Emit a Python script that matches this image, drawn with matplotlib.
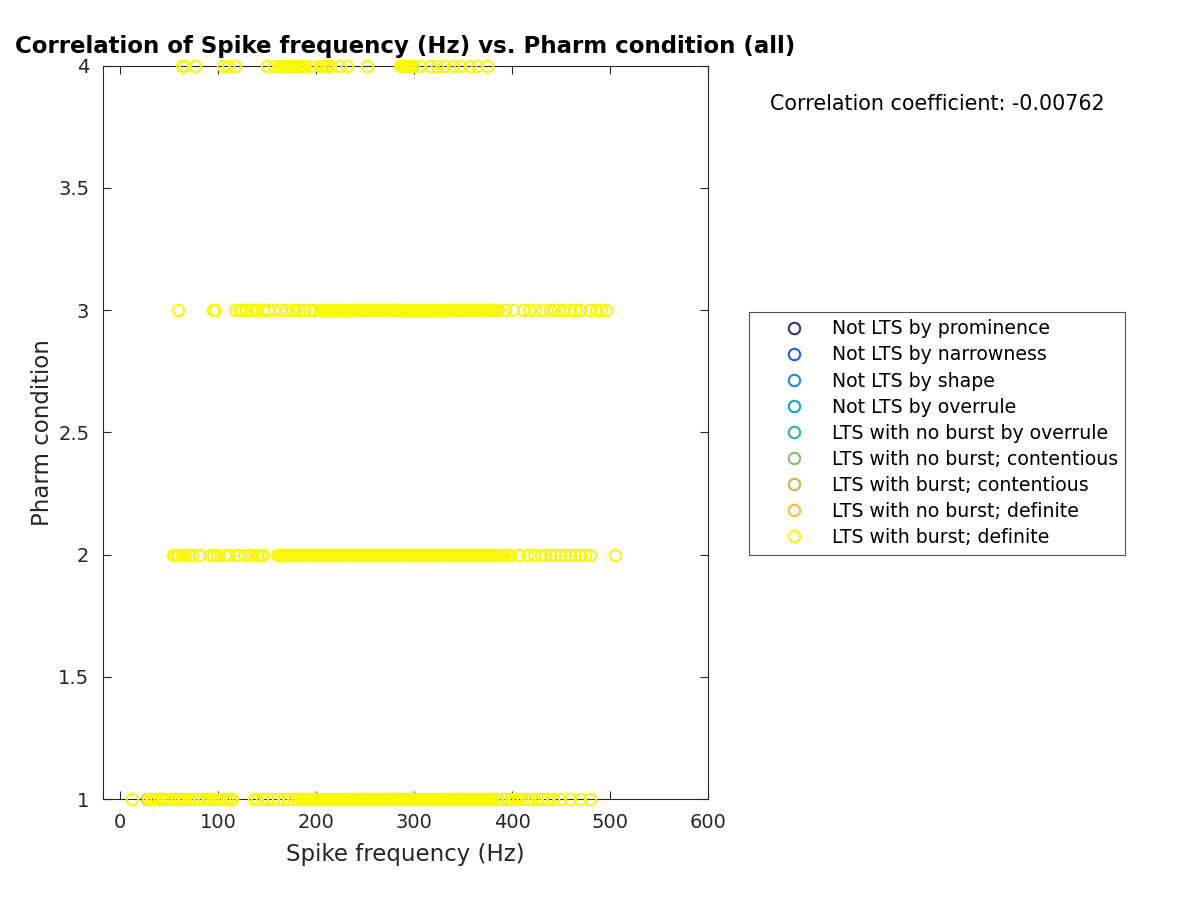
import numpy as np
import matplotlib
matplotlib.use("Agg")
import matplotlib.pyplot as plt

# spike frequency (Hz) for each pharm condition
freq_c4 = [63, 66, 76, 105, 110, 117, 150, 157, 163, 165, 167, 169, 171, 173, 175, 177, 179,
           181, 183, 185, 187, 189, 194, 204, 207, 210, 212, 214, 224, 231, 252, 286, 288,
           290, 292, 294, 296, 299, 306, 316, 323, 330, 340, 347, 357, 364, 374]
freq_c3 = [59, 95, 97, 117, 121, 124, 128, 133, 137, 140, 146, 151, 157, 163, 169, 175, 178,
           182, 188, 193, 197,
           204, 206, 208, 210, 212, 214, 216, 218, 220, 222, 224, 226, 228, 230, 232, 234,
           236, 238, 240, 242, 244, 246, 248, 250, 252, 254, 256, 258, 260, 262, 264, 266,
           268, 270, 272, 274, 276, 278, 280, 282, 284, 286, 288, 290, 292, 294, 296, 298,
           300, 302, 304, 306, 308, 310, 312, 314, 316, 318, 320, 322, 324, 326, 328, 330,
           332, 334, 336, 338, 340, 342, 344, 346, 348, 350, 352, 354, 356, 358, 360, 362,
           364, 366, 368, 370, 372, 374, 376, 378, 380, 382, 384, 386,
           393, 401, 411, 417, 423, 431, 439, 443, 447, 452, 459, 464, 469, 479, 486, 491, 496]
freq_c2 = [54, 57, 59, 63, 66, 70, 73, 80, 92, 95, 99, 107, 111, 119, 126, 130, 133, 140, 143,
           146,
           160, 162, 164, 166, 168, 170, 172, 174, 176, 178, 180, 182, 184, 186, 188, 190,
           192, 194, 196, 198, 200, 202, 204, 206, 208, 210, 212, 214, 216, 218, 220, 222,
           224, 226, 228, 230, 232, 234, 236, 238, 240, 242, 244, 246, 248, 250, 252, 254,
           256, 258, 260, 262, 264, 266, 268, 270, 272, 274, 276, 278, 280, 282, 284, 286,
           288, 290, 292, 294, 296, 298, 300, 302, 304, 306, 308, 310, 312, 314, 316, 318,
           320, 322, 324, 326, 328, 330, 332, 334, 336, 338, 340, 342, 344, 346, 348, 350,
           352, 354, 356, 358, 360, 362, 364, 366, 368, 370, 372, 374, 376, 378, 380, 382,
           384, 386, 388, 390, 392, 395,
           398, 407, 415, 422, 429, 434, 439, 444, 449, 454, 459, 464, 469, 474, 480, 505]
freq_c1 = [12, 28, 31, 33, 36, 39, 43, 46, 50, 54, 58, 61, 64, 66, 70, 73, 77, 80, 85, 89, 92,
           95, 99, 102, 106, 109, 112, 114,
           136, 140, 145, 150, 156, 161, 166, 171, 176, 180,
           184, 186, 188, 190, 192, 194, 196, 198, 200, 202, 204, 206, 208, 210, 212, 214,
           216, 218, 220, 222, 224, 226, 228, 230, 232, 234, 236, 238, 240, 242, 244, 246,
           248, 250, 252, 254, 256, 258, 260, 262, 264, 266, 268, 270, 272, 274, 276, 278,
           280, 282, 284, 286, 288, 290, 292, 294, 296, 298, 300, 302, 304, 306, 308, 310,
           312, 314, 316, 318, 320, 322, 324, 326, 328, 330, 332, 334, 336, 338, 340, 342,
           344, 346, 348, 350, 352, 354, 356, 358, 360, 362, 364, 366, 368, 370, 372, 374,
           376, 378, 380, 385, 390, 395, 399, 403, 407, 411, 416, 421, 425, 429, 436, 442,
           449, 459, 469, 480]
# a few hidden "burst; contentious" points under the yellow ones
freq_contentious = [27, 61]
cond_contentious = [1, 1]

labels = ["Not LTS by prominence", "Not LTS by narrowness", "Not LTS by shape",
          "Not LTS by overrule", "LTS with no burst by overrule",
          "LTS with no burst; contentious", "LTS with burst; contentious",
          "LTS with no burst; definite", "LTS with burst; definite"]
colors = ["#3B2B8E", "#1A60DC", "#2288DA", "#0DA5C8", "#2DB59C",
          "#84BF6E", "#D2B24E", "#FDBE3A", "#F8F80F"]
corr_coef = -0.00762

freq_all = freq_c1 + freq_c2 + freq_c3 + freq_c4
cond_all = [1] * len(freq_c1) + [2] * len(freq_c2) + [3] * len(freq_c3) + [4] * len(freq_c4)

fig = plt.figure(figsize=(12, 9), dpi=100)
ax = fig.add_axes([0.086, 0.112, 0.504, 0.815])

mk = dict(linestyle="none", marker="o", markerfacecolor="none", markersize=8.2,
          markeredgewidth=1.5, clip_on=False)
handles = []
for lab, col in zip(labels, colors):
    if lab == "LTS with burst; contentious":
        h, = ax.plot(freq_contentious, cond_contentious, markeredgecolor=col, label=lab, **mk)
    elif lab == "LTS with burst; definite":
        h, = ax.plot(freq_all, cond_all, markeredgecolor=col, label=lab, zorder=3, **mk)
    else:
        h, = ax.plot([], [], markeredgecolor=col, label=lab, **mk)
    handles.append(h)

ax.set_xlim(-17.5, 600)
ax.set_ylim(1, 4)
ax.set_xticks([0, 100, 200, 300, 400, 500, 600])
ax.set_yticks([1, 1.5, 2, 2.5, 3, 3.5, 4])
ax.set_yticklabels(["1", "1.5", "2", "2.5", "3", "3.5", "4"])
ax.tick_params(direction="in", top=True, right=True, labelsize=14, colors="#262626",
               length=6, width=0.8, pad=10)
for s in ax.spines.values():
    s.set_color("#262626")
    s.set_linewidth(0.8)
ax.set_xlabel("Spike frequency (Hz)", fontsize=16.5, color="#262626", labelpad=8)
ax.set_ylabel("Pharm condition", fontsize=16.5, color="#262626", labelpad=3)
ax.set_title("Correlation of Spike frequency (Hz) vs. Pharm condition (all)",
             fontsize=16.5, fontweight="bold", pad=9)

fig.text(0.7815, 0.884, "Correlation coefficient: %g" % corr_coef, fontsize=14.9,
         ha="center", va="center")

leg = fig.legend(handles=handles, loc="upper left", bbox_to_anchor=(0.6167, 0.664),
                 fontsize=13.6, frameon=True, fancybox=False, edgecolor="#262626",
                 handletextpad=0.0, labelspacing=0.375, borderpad=0.4, handlelength=3.95)
leg.get_frame().set_linewidth(0.8)

fig.savefig("out.png", dpi=100)
